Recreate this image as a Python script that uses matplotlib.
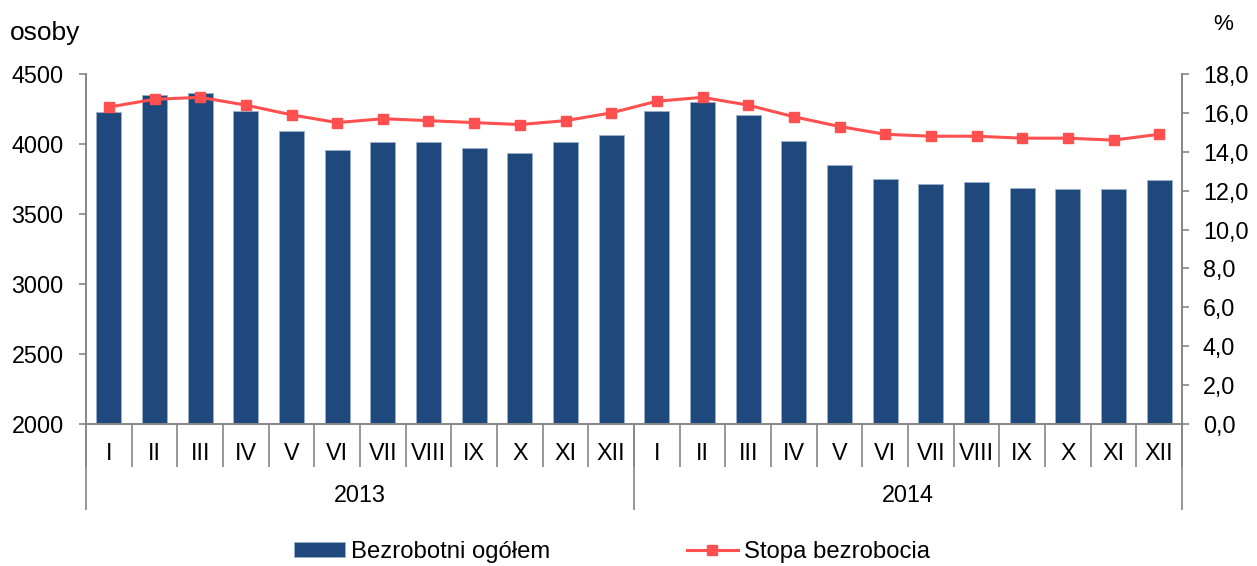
import matplotlib
matplotlib.use("Agg")
import matplotlib.pyplot as plt
import numpy as np

plt.rcParams['font.family'] = ['Liberation Sans', 'DejaVu Sans']

months = ['I', 'II', 'III', 'IV', 'V', 'VI', 'VII', 'VIII', 'IX', 'X', 'XI', 'XII']
years = ['2013', '2014']
# Bezrobotni ogółem (osoby)
bezrobotni = [4226, 4350, 4367, 4233, 4093, 3955, 4016, 4016, 3969, 3936, 4012, 4064,
              4238, 4302, 4207, 4021, 3850, 3752, 3712, 3729, 3686, 3681, 3681, 3745]
# Stopa bezrobocia (%)
stopa = [16.3, 16.7, 16.8, 16.4, 15.9, 15.5, 15.7, 15.6, 15.5, 15.4, 15.6, 16.0,
         16.6, 16.8, 16.4, 15.8, 15.3, 14.9, 14.8, 14.8, 14.7, 14.7, 14.6, 14.9]

bar_color = '#1F497D'
line_color = '#FF4F4F'
axis_color = '#868686'
fs = 16.8

fig = plt.figure(figsize=(12.57, 5.66), dpi=100)
ax = fig.add_axes([86/1257, 1 - 424/566, (1182-86)/1257, 350/566])
ax2 = ax.twinx()

x = np.arange(len(bezrobotni))
bars = ax.bar(x, bezrobotni, width=0.55, color=bar_color, edgecolor='#9AAFCB',
              linewidth=0.6, label='Bezrobotni ogółem', zorder=2)
line, = ax2.plot(x, stopa, color=line_color, lw=2.2, marker='s', ms=7,
                 label='Stopa bezrobocia', zorder=3)

ax.set_xlim(-0.5, len(x) - 0.5)
ax.set_ylim(2000, 4500)
ax.set_yticks(np.arange(2000, 4501, 500))
ax2.set_ylim(0, 18)
ax2.set_yticks(np.arange(0, 18.1, 2))
ax2.set_yticklabels([('%.1f' % v).replace('.', ',') for v in np.arange(0, 18.1, 2)])

for a in (ax, ax2):
    a.spines['top'].set_visible(False)
    for s in ('left', 'right', 'bottom'):
        a.spines[s].set_color(axis_color)
        a.spines[s].set_linewidth(1.2)
ax.set_zorder(ax2.get_zorder() - 1)
ax.patch.set_visible(False)
ax2.patch.set_visible(False)

ax.tick_params(axis='y', direction='out', length=5, width=1.2, color=axis_color,
               labelsize=fs, pad=11)
ax2.tick_params(axis='y', direction='out', length=5, width=1.2, color=axis_color,
                labelsize=fs, pad=10)

# month labels at centers, separators as minor ticks at boundaries
ax.set_xticks(x)
ax.set_xticklabels(months * len(years))
ax.tick_params(axis='x', which='major', length=0, labelsize=fs, pad=13)
ax.set_xticks(np.arange(-0.5, len(x), 1), minor=True)
ax.tick_params(axis='x', which='minor', direction='out', length=31, width=1.2,
               color=axis_color)

# year separators
sec = ax.secondary_xaxis('bottom')
sec.set_xticks(np.arange(-0.5, len(x), 12))
sec.set_xticklabels([])
sec.spines['bottom'].set_visible(False)
sec.tick_params(axis='x', direction='out', length=62, width=1.2, color=axis_color)
for i, yr in enumerate(years):
    ax.text(i * 12 + 5.5, -0.205, yr, transform=ax.get_xaxis_transform(),
            ha='center', va='center', fontsize=fs)

fig.text(10/1257, 1 - 33/566, 'osoby', fontsize=19, ha='left', va='center')
fig.text(1223/1257, 1 - 24/566, '%', fontsize=16.2, ha='center', va='center')

fig.legend([bars, line], ['Bezrobotni ogółem', 'Stopa bezrobocia'],
           loc='center', bbox_to_anchor=(612/1257, 1 - 552/566), ncol=2,
           frameon=False, fontsize=17.2, handlelength=2.15, handleheight=0.55,
           handletextpad=0.25, columnspacing=5.7)

fig.savefig('out.png', dpi=100)
